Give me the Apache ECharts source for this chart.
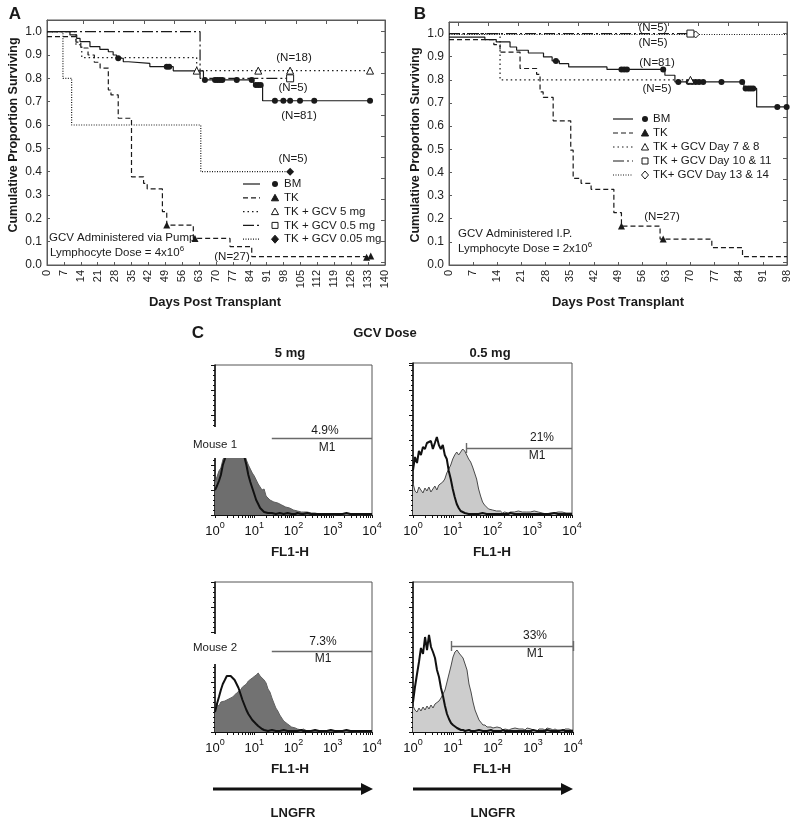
<!DOCTYPE html>
<html><head><meta charset="utf-8">
<script src="https://cdn.jsdelivr.net/npm/echarts@6/dist/echarts.min.js"></script>
<style>html,body{margin:0;padding:0;background:#fff}#c{width:800px;height:819px}</style>
</head><body><div id="c"></div>
<script>
// ---------- Panel A (GCV via pump) ----------
const daysTicksA = [0,7,14,21,28,35,42,49,56,63,70,77,84,91,98,105,112,119,126,133,140];
const survTicks = [0,0.1,0.2,0.3,0.4,0.5,0.6,0.7,0.8,0.9,1.0];
const topTicksA = [15,27.6,40.2,52.8,65.4,78,90.6,103.2,115.8,128.4];
const rightTicks = [1.0,0.91,0.82,0.73,0.64,0.55,0.46,0.37,0.28,0.19,0.10,0.01];

const bmA_t = [0,9.5,12.3,13.7,17.8,21.9,25.4,27.4,28.8,31.6,33.7,42.6,52.3,64.8,85.6,89.3,133.8];
const bmA_s = [1.0,0.986,0.971,0.957,0.936,0.924,0.914,0.900,0.886,0.871,0.864,0.850,0.832,0.793,0.771,0.704,0.704];
const bmA_ct = [29.5,49.6,50.6,65.4,69.6,70.6,71.6,72.6,78.6,84.8,86.5,87.5,88.5,94.4,97.9,100.7,104.8,110.7,133.8];
const bmA_cs = [0.886,0.850,0.850,0.793,0.793,0.793,0.793,0.793,0.793,0.793,0.771,0.771,0.771,0.704,0.704,0.704,0.704,0.704,0.704];

const tkA_t = [0,12,14,17,19.6,22,25.4,26.5,29.5,35,40,41.5,47.8,49.6,60.6,75.8,84.8,133.8];
const tkA_s = [0.979,0.955,0.930,0.900,0.869,0.844,0.750,0.729,0.629,0.378,0.350,0.326,0.229,0.171,0.114,0.079,0.036,0.036];
const tkA_ct = [49.6,61.3,132.4,134.1];
const tkA_cs = [0.171,0.114,0.033,0.039];

const g5A_t = [0,12,14.4,62,133.8];
const g5A_s = [1.0,0.944,0.889,0.833,0.833];
const g5A_ct = [62,87.5,100.7,133.8];
const g5A_cs = [0.833,0.833,0.833,0.833];

const g05A_t = [0,63.4,100.7];
const g05A_s = [1.0,0.8,0.8];
const g05A_ct = [100.7];
const g05A_cs = [0.8];

const g005A_t = [0,6.6,10.2,63.7,100.7];
const g005A_s = [1.0,0.8,0.6,0.4,0.4];
const g005A_ct = [100.7];
const g005A_cs = [0.4];

// ---------- Panel B (GCV I.P.) ----------
const daysTicksB = [0,7,14,21,28,35,42,49,56,63,70,77,84,91,98];
const topTicksB = [2.7,11.4,20.1,28.8,37.5,46.2,54.9,63.6,72.3,81,89.7];

const bmB_t = [0,10.4,13.7,17.7,19.6,23,27.4,29.9,32,34.7,45.8,62.6,65.5,85.5,89.2,98];
const bmB_s = [0.985,0.974,0.964,0.942,0.928,0.916,0.899,0.882,0.870,0.856,0.845,0.820,0.791,0.763,0.683,0.683];
const bmB_ct = [31,50,50.8,51.6,62.1,66.5,69.5,70.5,71.5,72.5,73.7,79,85,86,86.8,87.5,88.2,95.2,97.9];
const bmB_cs = [0.882,0.845,0.845,0.845,0.845,0.791,0.791,0.791,0.791,0.791,0.791,0.791,0.791,0.763,0.763,0.763,0.763,0.683,0.683];

const tkB_t = [0,13,14.8,20.6,25.4,26.4,27.3,30.2,35.3,36,38.3,41.2,47.8,50,61.2,76.2,85.1,98];
const tkB_s = [0.974,0.952,0.920,0.849,0.824,0.748,0.724,0.623,0.496,0.374,0.353,0.327,0.226,0.168,0.112,0.075,0.036,0.036];
const tkB_ct = [50,62.1];
const tkB_cs = [0.168,0.112];

const d78B_t = [0,14.8,70];
const d78B_s = [1.0,0.8,0.8];
const d78B_ct = [70];
const d78B_cs = [0.8];

const d1011B_t = [0,70];
const d1011B_s = [1.0,1.0];
const d1011B_ct = [70];
const d1011B_cs = [1.0];

const d1314B_t = [0,98];
const d1314B_s = [0.996,0.996];
const d1314B_ct = [71.5];
const d1314B_cs = [0.996];

// ---------- Panel C (FL1-H histograms) ----------
const fl1Bins = [1,1.12,1.26,1.41,1.58,1.78,2.0,2.24,2.51,2.82,3.16,3.55,3.98,4.47,5.01,5.62,6.31,7.08,7.94,8.91,
 10,11.2,12.6,14.1,15.8,17.8,20.0,22.4,25.1,28.2,31.6,35.5,39.8,44.7,50.1,56.2,63.1,70.8,79.4,89.1,
 100,112,126,141,158,178,200,224,251,282,316,355,398,447,501,562,631,708,794,891,
 1000,1122,1259,1413,1585,1778,1995,2239,2512,2818,3162,3548,3981,4467,5012,5623,6310,7079,7943,8913,10000];
const histLabelValues = [1,10,100,1000,10000];
const histTickValues = [1,2,3,4,5,6,7,8,9,10,20,30,40,50,60,70,80,90,100,200,300,400,500,600,700,800,900,
 1000,2000,3000,4000,5000,6000,7000,8000,9000,10000];

const m1Grey5 = [33,38,44,47,55,60,66,70,74,79,82,86,88,84,78,62,
 55,50,46,42,39,38,31,31,25,26,19,21,15,17,13,
 15,12,13,10,11,8,9,7,7,5,6,4,4,3,3,2,3,2,2,1,
 2,1,1,2,1,0,1,1,0,1,0,1,1,0,0,1,0,1,0,0,1,0,0,1,0,0,1,0,0,0];
const m1Ctrl5 = [25,29,34,40,50,56,64,70,76,80,83,84,82,78,70,58,
 50,40,33,27,21,15,11,7,5,3,2,2,1,2,1,
 1,1,2,1,1,1,2,1,1,1,1,2,1,1,1,1,2,1,1,1,
 1,1,1,2,1,1,1,1,1,2,1,1,1,1,1,1,2,1,1,1,1,1,1,2,1,1,1,1,1,1];
const m1Grey05 = [32,24,22,28,25,22,27,24,28,23,26,29,25,30,28,33,36,42,46,50,56,
 60,63,60,62,66,64,60,56,53,48,42,36,26,19,13,10,8,6,5,5,
 3,4,3,4,2,3,4,2,3,2,3,2,4,2,3,2,3,1,3,2,4,2,3,2,2,3,1,3,2,3,2,2,3,1,3,4,2,3,2,2];
const m1Ctrl05 = [45,58,52,64,60,68,66,72,70,74,66,72,78,70,66,70,60,56,44,36,26,
 18,11,7,4,3,2,2,1,1,2,1,1,1,1,2,1,1,1,1,1,
 1,1,2,1,1,1,1,1,2,1,1,1,1,1,1,2,1,1,1,1,1,1,1,2,1,1,1,1,1,1,2,1,1,1,1,1,1,1,1,1];
const m2Grey5 = [24,28,26,30,28,31,29,33,31,35,36,39,38,42,45,44,48,51,50,54,55,
 57,59,56,58,52,49,43,40,34,29,24,21,17,15,11,10,8,7,5,5,
 4,3,3,2,3,2,1,2,1,1,1,0,1,1,0,1,0,1,1,0,1,0,0,1,0,1,0,0,1,0,0,1,0,0,0,1,0,0,0,0];
const m2Ctrl5 = [20,28,35,42,48,52,56,57,56,54,52,48,44,38,32,27,22,18,15,12,10,
 8,6,4,3,2,2,1,1,2,1,1,1,1,1,2,1,1,1,1,1,
 1,1,1,2,1,1,1,1,1,1,2,1,1,1,1,1,1,1,2,1,1,1,1,1,1,1,2,1,1,1,1,1,1,1,1,2,1,1,1,1];
const m2Grey05 = [26,22,20,24,21,25,22,26,23,27,24,28,27,31,34,38,42,50,58,66,75,
 80,82,79,78,74,68,62,48,40,30,22,17,12,10,7,7,5,4,5,4,
 3,5,3,4,2,3,4,2,3,2,4,2,3,2,3,2,4,2,3,2,3,1,3,2,3,2,4,2,3,2,3,2,2,3,1,3,2,3,2,2];
const m2Ctrl05 = [30,45,58,70,84,78,95,82,97,85,80,74,62,55,44,36,26,18,13,9,7,
 5,4,3,2,2,1,1,2,1,1,1,1,2,1,1,1,1,1,2,1,
 1,1,1,1,2,1,1,1,1,1,1,2,1,1,1,1,1,1,1,2,1,1,1,1,1,1,2,1,1,1,1,1,1,1,2,1,1,1,1,1];

const gateFrom = [28, 22.4, 28, 9.3];
const gateLevel = [77, 67, 81, 86];
const gatePct = ['4.9%', '21%', '7.3%', '33%'];

// ---------- build ----------
const FONT = '"Liberation Sans", Arial, Helvetica, sans-serif';
const INK = '#1a1a1a';
const AX = '#5a5a5a';
const pairs = (a, b) => a.map((v, i) => [v, b[i]]);

function kmAxesX(gi, max, interval, topTicks) {
  return [
    {gridIndex: gi, type: 'value', position: 'bottom', min: 0, max: max, interval: interval,
     axisLine: {show: true, onZero: false, lineStyle: {color: AX, width: 1}},
     axisTick: {show: true, inside: true, length: 3, lineStyle: {color: AX}},
     axisLabel: {show: true, rotate: 90, margin: 5, fontSize: 11, color: '#222', fontFamily: FONT},
     splitLine: {show: false}},
    {gridIndex: gi, type: 'value', position: 'top', min: 0, max: max,
     axisLine: {show: true, onZero: false, lineStyle: {color: AX, width: 1}},
     axisTick: {show: true, inside: true, length: 4, customValues: topTicks, lineStyle: {color: AX}},
     axisLabel: {show: false}, splitLine: {show: false}}
  ];
}
function kmAxesY(gi) {
  return [
    {gridIndex: gi, type: 'value', position: 'left', min: 0, max: 1.05,
     axisLine: {show: true, onZero: false, lineStyle: {color: AX, width: 1}},
     axisTick: {show: true, inside: true, length: 3, customValues: survTicks, lineStyle: {color: AX}},
     axisLabel: {show: true, customValues: survTicks, formatter: v => v.toFixed(1), margin: 5,
                 fontSize: 12, color: '#222', fontFamily: FONT},
     splitLine: {show: false}},
    {gridIndex: gi, type: 'value', position: 'right', min: 0, max: 1.05,
     axisLine: {show: true, onZero: false, lineStyle: {color: AX, width: 1}},
     axisTick: {show: true, inside: true, length: 4, customValues: rightTicks, lineStyle: {color: AX}},
     axisLabel: {show: false}, splitLine: {show: false}}
  ];
}
function histX(gi) {
  return {gridIndex: gi, type: 'log', logBase: 10, min: 1, max: 10000, position: 'bottom',
    axisLine: {show: true, onZero: false, lineStyle: {color: '#111', width: 1.2}},
    axisTick: {show: true, inside: false, length: 3, customValues: histTickValues, lineStyle: {color: '#111'}},
    axisLabel: {show: true, customValues: histLabelValues, margin: 6,
      formatter: v => '{b|10}{e|' + Math.round(Math.log10(v)) + '}',
      rich: {b: {fontSize: 13, fontFamily: FONT, color: '#111', lineHeight: 20},
             e: {fontSize: 9, fontFamily: FONT, color: '#111', lineHeight: 9, verticalAlign: 'top'}}},
    splitLine: {show: false}, minorSplitLine: {show: false}};
}
function histY(gi, max) {
  return {gridIndex: gi, type: 'value', min: 0, max: max, interval: 25, position: 'left',
    axisLine: {show: true, onZero: false, lineStyle: {color: '#111', width: 1.5}},
    axisTick: {show: true, inside: false, length: 4, lineStyle: {color: '#111'}},
    minorTick: {show: true, splitNumber: 5, length: 2, lineStyle: {color: '#111'}},
    axisLabel: {show: false}, splitLine: {show: false}, minorSplitLine: {show: false}};
}

function km(t, s, dash, xi, yi) {
  return {type: 'line', xAxisIndex: xi, yAxisIndex: yi, data: pairs(t, s), step: 'end',
    symbol: 'none', showSymbol: false, silent: true,
    lineStyle: {color: INK, width: 1.2, type: dash || 'solid'}, z: 2};
}
function cens(t, s, symbol, size, filled, xi, yi) {
  return {type: 'scatter', xAxisIndex: xi, yAxisIndex: yi, data: pairs(t, s), symbol: symbol,
    symbolSize: size, silent: true,
    itemStyle: {color: filled ? INK : '#fff', borderColor: INK, borderWidth: filled ? 0 : 1, opacity: 1}, z: 5};
}
function hist(vals, xi, yi, fill, stroke, width, z) {
  const s = {type: 'line', xAxisIndex: xi, yAxisIndex: yi, data: pairs(fl1Bins, vals),
    symbol: 'none', showSymbol: false, silent: true,
    lineStyle: {color: stroke, width: width}, z: z};
  if (fill) s.areaStyle = {color: fill, opacity: 1};
  return s;
}
function gate(k, xi, yi, tickStart, tickEnd) {
  const lines = [[{coord: [gateFrom[k], gateLevel[k]]}, {coord: [10000, gateLevel[k]]}]];
  if (tickStart) lines.push([{coord: [gateFrom[k], gateLevel[k] - 5]}, {coord: [gateFrom[k], gateLevel[k] + 5]}]);
  if (tickEnd) lines.push([{coord: [10000, gateLevel[k] - 5]}, {coord: [10000, gateLevel[k] + 5]}]);
  return {type: 'line', xAxisIndex: xi, yAxisIndex: yi, data: [], silent: true, z: 6,
    markLine: {silent: true, symbol: 'none', animation: false, label: {show: false},
      lineStyle: {color: '#6a6a6a', width: 1.4, type: 'solid'}, data: lines}};
}

const dTK = [5, 3], dDot = [1.5, 3], dLong = [11, 3, 2, 3], dFine = [1, 1.5];

const series = [
  // Panel A
  km(bmA_t, bmA_s, null, 0, 0),
  km(tkA_t, tkA_s, dTK, 0, 0),
  km(g5A_t, g5A_s, dDot, 0, 0),
  km(g05A_t, g05A_s, dLong, 0, 0),
  km(g005A_t, g005A_s, dFine, 0, 0),
  cens(bmA_ct, bmA_cs, 'circle', 6, true, 0, 0),
  cens(tkA_ct, tkA_cs, 'triangle', 7, true, 0, 0),
  cens(g5A_ct, g5A_cs, 'triangle', 7, false, 0, 0),
  cens(g05A_ct, g05A_cs, 'rect', 7, false, 0, 0),
  cens(g005A_ct, g005A_cs, 'diamond', 8, true, 0, 0),
  // Panel B
  km(bmB_t, bmB_s, null, 2, 2),
  km(tkB_t, tkB_s, dTK, 2, 2),
  km(d78B_t, d78B_s, dDot, 2, 2),
  km(d1011B_t, d1011B_s, dLong, 2, 2),
  km(d1314B_t, d1314B_s, dFine, 2, 2),
  cens(bmB_ct, bmB_cs, 'circle', 6, true, 2, 2),
  cens(tkB_ct, tkB_cs, 'triangle', 7, true, 2, 2),
  cens(d78B_ct, d78B_cs, 'triangle', 7, false, 2, 2),
  cens(d1314B_ct, d1314B_cs, 'diamond', 7, false, 2, 2),
  cens(d1011B_ct, d1011B_cs, 'rect', 7, false, 2, 2),
  // Panel C
  hist(m1Grey5, 4, 4, '#6e6e6e', '#5e5e5e', 1, 2),
  hist(m1Ctrl5, 4, 4, null, '#111', 2, 3),
  hist(m1Grey05, 5, 5, '#cacaca', '#4a4a4a', 1, 2),
  hist(m1Ctrl05, 5, 5, null, '#111', 2, 3),
  hist(m2Grey5, 6, 6, '#727272', '#626262', 1, 2),
  hist(m2Ctrl5, 6, 6, null, '#111', 2, 3),
  hist(m2Grey05, 7, 7, '#cdcdcd', '#4a4a4a', 1, 2),
  hist(m2Ctrl05, 7, 7, null, '#111', 2, 3),
  gate(0, 4, 4, false, false),
  gate(1, 5, 5, true, false),
  gate(2, 6, 6, false, false),
  gate(3, 7, 7, true, true)
];

// ---------- graphic (text, legends, arrows) ----------
const G = [];
function txt(text, x, y, size, bold, align, extra) {
  const st = Object.assign({text: text, x: x, y: y, fill: '#1a1a1a', fontSize: size,
    fontFamily: FONT, fontWeight: bold ? 'bold' : 'normal', align: align || 'center', verticalAlign: 'middle'}, extra || {});
  G.push({type: 'text', z: 100, silent: true, style: st});
}
function legendRow(x0, x1, xs, xt, y, dash, sym, filled, label) {
  G.push({type: 'line', z: 100, silent: true, shape: {x1: x0, y1: y, x2: x1, y2: y},
    style: {stroke: INK, lineWidth: 1.2, lineDash: dash || null}});
  const st = {fill: filled ? INK : '#fff', stroke: INK, lineWidth: 1};
  if (sym === 'circle') G.push({type: 'circle', z: 100, silent: true, shape: {cx: xs, cy: y, r: 3}, style: {fill: INK}});
  if (sym === 'triangle') G.push({type: 'polygon', z: 100, silent: true, shape: {points: [[xs, y - 3.5], [xs + 3.6, y + 3], [xs - 3.6, y + 3]]}, style: st});
  if (sym === 'rect') G.push({type: 'rect', z: 100, silent: true, shape: {x: xs - 3, y: y - 3, width: 6, height: 6}, style: st});
  if (sym === 'diamond') G.push({type: 'polygon', z: 100, silent: true, shape: {points: [[xs, y - 4], [xs + 3.5, y], [xs, y + 4], [xs - 3.5, y]]}, style: st});
  txt(label, xt, y, 11.5, false, 'left');
}
const legA = [['BM', null, 'circle', true], ['TK', dTK, 'triangle', true], ['TK + GCV 5 mg', dDot, 'triangle', false],
  ['TK + GCV 0.5 mg', dLong, 'rect', false], ['TK + GCV 0.05 mg', dFine, 'diamond', true]];
legA.forEach((r, i) => legendRow(243, 260, 275, 284, 184 + 13.8 * i, r[1], r[2], r[3], r[0]));
const legB = [['BM', null, 'circle', true], ['TK', dTK, 'triangle', true], ['TK + GCV Day 7 & 8', dDot, 'triangle', false],
  ['TK + GCV Day 10 & 11', dLong, 'rect', false], ['TK+ GCV Day 13 & 14', dFine, 'diamond', false]];
legB.forEach((r, i) => legendRow(613, 633, 645, 653, 119 + 14 * i, r[1], r[2], r[3], r[0]));

// panel letters / titles
txt('A', 15, 14, 17, true);
txt('B', 420, 14, 17, true);
txt('C', 198, 333, 17, true);
G.push({type: 'text', z: 100, silent: true, rotation: Math.PI / 2, x: 14, y: 135,
  style: {text: 'Cumulative Proportion Surviving', fill: '#1a1a1a', fontSize: 12.5, fontWeight: 'bold', fontFamily: FONT, align: 'center', verticalAlign: 'middle'}});
G.push({type: 'text', z: 100, silent: true, rotation: Math.PI / 2, x: 416, y: 145,
  style: {text: 'Cumulative Proportion Surviving', fill: '#1a1a1a', fontSize: 12.5, fontWeight: 'bold', fontFamily: FONT, align: 'center', verticalAlign: 'middle'}});
txt('Days Post Transplant', 215, 302, 13, true);
txt('Days Post Transplant', 618, 302, 13, true);

// N labels
txt('(N=18)', 294, 58, 11.5); txt('(N=5)', 293, 88, 11.5); txt('(N=81)', 299, 116, 11.5);
txt('(N=5)', 293, 159, 11.5); txt('(N=27)', 232, 257, 11.5);
txt('(N=5)', 653, 28, 11.5); txt('(N=5)', 653, 43, 11.5); txt('(N=81)', 657, 63, 11.5);
txt('(N=5)', 657, 89, 11.5); txt('(N=27)', 662, 217, 11.5);

// annotations
const supRich = {s: {fontSize: 8, fontFamily: FONT, fill: '#1a1a1a', lineHeight: 8, verticalAlign: 'top'},
                 n: {fontSize: 11.5, fontFamily: FONT, fill: '#1a1a1a', lineHeight: 17}};
txt('GCV Administered via Pump', 49, 238, 11.5, false, 'left');
txt('{n|Lymphocyte Dose = 4x10}{s|6}', 50, 253, 11.5, false, 'left', {rich: supRich});
txt('GCV Administered I.P.', 458, 234, 11.5, false, 'left');
txt('{n|Lymphocyte Dose = 2x10}{s|6}', 458, 249, 11.5, false, 'left', {rich: supRich});

// panel C headers
txt('GCV Dose', 385, 333, 13, true);
txt('5 mg', 290, 353, 13, true);
txt('0.5 mg', 490, 353, 13, true);

// mouse label boxes (white background covering part of plot)
G.push({type: 'rect', z: 90, silent: true, shape: {x: 186, y: 427, width: 84, height: 31}, style: {fill: '#fff'}});
G.push({type: 'rect', z: 90, silent: true, shape: {x: 186, y: 634, width: 84, height: 30}, style: {fill: '#fff'}});
txt('Mouse 1', 193, 445, 11.5, false, 'left');
txt('Mouse 2', 193, 648, 11.5, false, 'left');

// gate labels
txt(gatePct[0], 325, 431, 12); txt('M1', 327, 448, 12);
txt(gatePct[1], 542, 438, 12); txt('M1', 537, 456, 12);
txt(gatePct[2], 323, 642, 12); txt('M1', 323, 659, 12);
txt(gatePct[3], 535, 636, 12); txt('M1', 535, 654, 12);

// FL1-H
txt('FL1-H', 290, 552, 13.5, true); txt('FL1-H', 492, 552, 13.5, true);
txt('FL1-H', 290, 769, 13.5, true); txt('FL1-H', 492, 769, 13.5, true);

// arrows + LNGFR
[[213, 373], [413, 573]].forEach(a => {
  G.push({type: 'line', z: 100, silent: true, shape: {x1: a[0], y1: 789, x2: a[1] - 10, y2: 789}, style: {stroke: '#111', lineWidth: 3}});
  G.push({type: 'polygon', z: 100, silent: true, shape: {points: [[a[1] - 12, 783], [a[1], 789], [a[1] - 12, 795]]}, style: {fill: '#111'}});
});
txt('LNGFR', 293, 813, 13, true); txt('LNGFR', 493, 813, 13, true);

const gridBase = {show: true, borderColor: AX, borderWidth: 1, backgroundColor: 'transparent', containLabel: false, outerBoundsMode: 'none'};
const histGrid = {show: true, borderColor: '#555', borderWidth: 1, backgroundColor: 'transparent', containLabel: false, outerBoundsMode: 'none'};

const option = {
  animation: false,
  backgroundColor: '#fff',
  textStyle: {fontFamily: FONT},
  grid: [
    Object.assign({left: 47, top: 20, width: 338, height: 245}, gridBase),
    Object.assign({left: 449, top: 22, width: 338, height: 243}, gridBase),
    Object.assign({left: 215, top: 365, width: 157, height: 150}, histGrid),
    Object.assign({left: 413, top: 363, width: 159, height: 152}, histGrid),
    Object.assign({left: 215, top: 582, width: 157, height: 150}, histGrid),
    Object.assign({left: 413, top: 582, width: 160, height: 150}, histGrid)
  ],
  xAxis: [].concat(kmAxesX(0, 140, 7, topTicksA), kmAxesX(1, 98, 7, topTicksB),
    [histX(2), histX(3), histX(4), histX(5)]),
  yAxis: [].concat(kmAxesY(0), kmAxesY(1), [histY(2, 150), histY(3, 152), histY(4, 150), histY(5, 150)]),
  series: series,
  graphic: G
};
const chart = echarts.init(document.getElementById('c'), null, {renderer: 'canvas'});
chart.setOption(option);
</script></body></html>
